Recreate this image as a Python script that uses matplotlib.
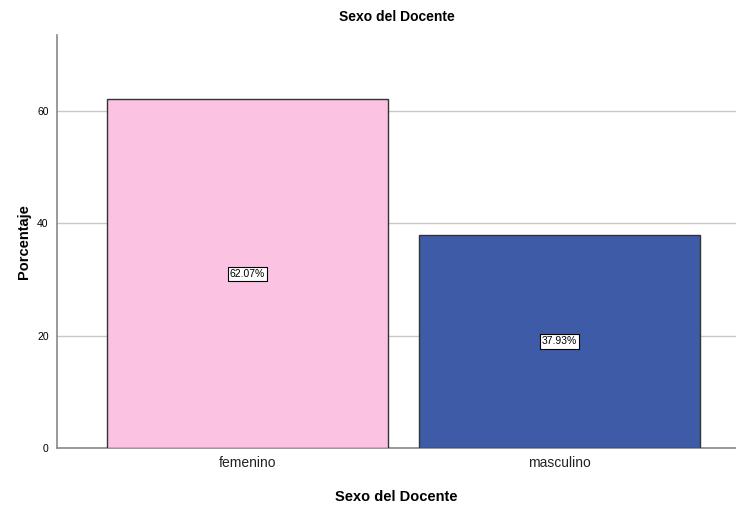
import matplotlib
matplotlib.use('Agg')
import matplotlib.pyplot as plt

categories = ['femenino', 'masculino']
percentages = [62.07, 37.93]
bar_labels = ['62.07%', '37.93%']
yticks = [0, 20, 40, 60]

plt.rcParams['font.family'] = ['Liberation Sans', 'DejaVu Sans']

fig = plt.figure(figsize=(7.36, 5.05), dpi=100)
ax = fig.add_axes([57 / 736, 57 / 505, 679 / 736, 413 / 505])

colors = ['#FBC2E2', '#3E5BA8']
x = range(len(categories))
bars = ax.bar(x, percentages, width=0.9, color=colors, edgecolor='#333333',
              linewidth=1.0, zorder=3)

for bar, lab in zip(bars, bar_labels):
    ax.text(bar.get_x() + bar.get_width() / 2, bar.get_height() / 2, lab,
            ha='center', va='center', fontsize=7.5, zorder=4,
            bbox=dict(boxstyle='square,pad=0.2', facecolor='white',
                      edgecolor='black', linewidth=0.8))

ax.set_xlim(-0.61, 1.566)
ax.set_ylim(0, 73.5)
ax.set_xticks(list(x))
ax.set_xticklabels(categories, fontsize=10, color='#222222')
ax.set_yticks(yticks)
ax.tick_params(axis='y', length=0, labelsize=7.5, pad=6)
ax.tick_params(axis='x', length=0, pad=6)
ax.grid(axis='y', color='#c8c8c8', linewidth=1.0, zorder=0)

for side in ['top', 'right']:
    ax.spines[side].set_visible(False)
for side in ['left', 'bottom']:
    ax.spines[side].set_color('#888888')
    ax.spines[side].set_linewidth(1.2)

ax.set_title('Sexo del Docente', fontsize=10, fontweight='bold', pad=10)
ax.set_xlabel('Sexo del Docente', fontsize=10.5, fontweight='bold', labelpad=14)
ax.set_ylabel('Porcentaje', fontsize=10.5, fontweight='bold', labelpad=4)

fig.savefig('out.png', dpi=100)
